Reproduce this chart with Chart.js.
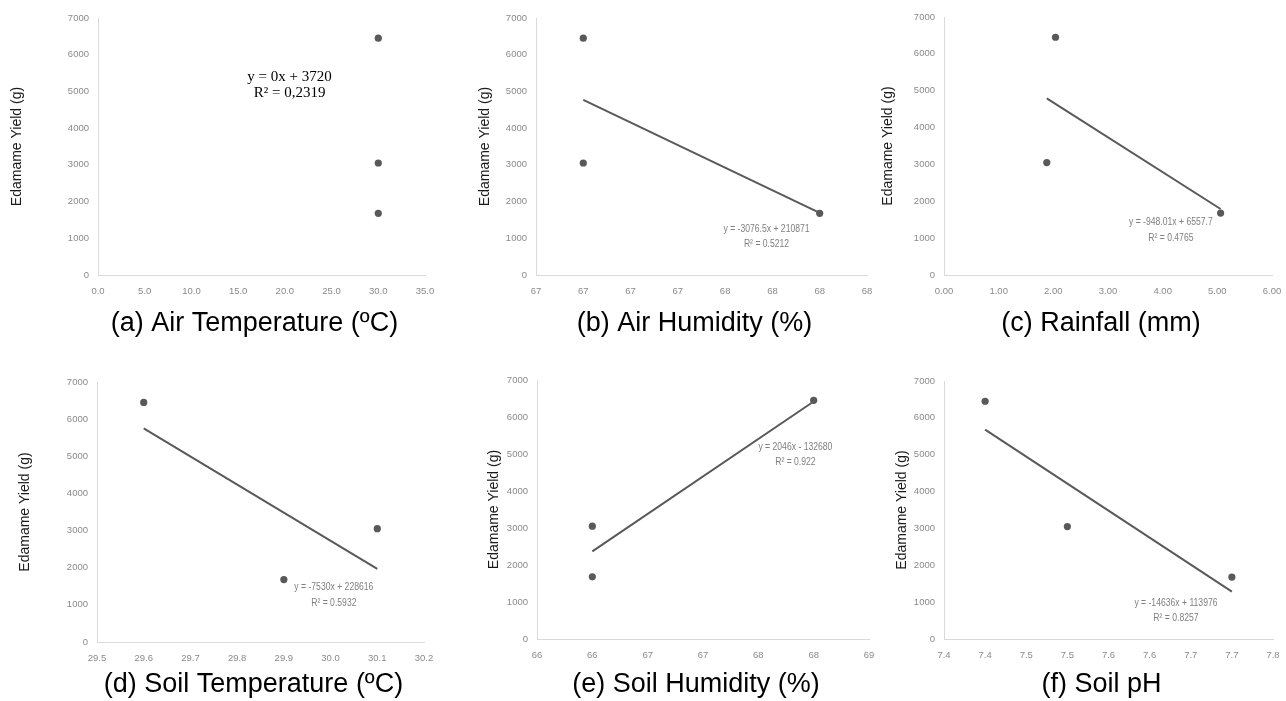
<!DOCTYPE html>
<html lang="en">
<head>
<meta charset="UTF-8">
<title>Edamame yield vs environment</title>
<script src="https://cdn.jsdelivr.net/npm/chart.js@4.4.1/dist/chart.umd.min.js"></script>
<style>
  html, body { margin: 0; padding: 0; background: #fff; overflow: hidden; }
  #page { position: relative; width: 1286px; height: 701px; }
  #page canvas { position: absolute; }
</style>
</head>
<body>
<div id="page">
  <canvas id="chartA"></canvas>
  <canvas id="chartB"></canvas>
  <canvas id="chartC"></canvas>
  <canvas id="chartD"></canvas>
  <canvas id="chartE"></canvas>
  <canvas id="chartF"></canvas>
</div>
<script>
// same three plots in every panel
const yieldG = [6450, 3050, 1680];

const airTemp = [30.0, 30.0, 30.0];
const airHumidity = [67.0, 67.0, 68.0];
const rainfall = [2.04, 1.88, 5.06];
const soilTemp = [29.6, 30.1, 29.9];
const soilHumidity = [68.0, 66.0, 66.0];
const soilPH = [7.4, 7.5, 7.7];

// trend line ends
const trendAirHumX = [67.0, 68.0], trendAirHumY = [4770, 1690];
const trendRainX = [1.88, 5.06], trendRainY = [4790, 1790];
const trendSoilTempX = [29.6, 30.1], trendSoilTempY = [5750, 1970];
const trendSoilHumX = [66.0, 68.0], trendSoilHumY = [2370, 6420];
const trendPHX = [7.4, 7.7], trendPHY = [5680, 1285];

// tick labels as printed
const airTempTicks = ['0.0', '5.0', '10.0', '15.0', '20.0', '25.0', '30.0', '35.0'];
const airHumTicks = ['67', '67', '67', '67', '68', '68', '68', '68'];
const rainTicks = ['0.00', '1.00', '2.00', '3.00', '4.00', '5.00', '6.00'];
const soilTempTicks = ['29.5', '29.6', '29.7', '29.8', '29.9', '30.0', '30.1', '30.2'];
const soilHumTicks = ['66', '66', '67', '67', '68', '68', '69'];
const phTicks = ['7.4', '7.4', '7.5', '7.5', '7.6', '7.6', '7.7', '7.7', '7.8'];
const yieldTicks = ['0', '1000', '2000', '3000', '4000', '5000', '6000', '7000'];

const eqAirTemp = ['y = 0x + 3720', 'R² = 0,2319'];
const eqAirHum = ['y = -3076.5x + 210871', 'R² = 0.5212'];
const eqRain = ['y = -948.01x + 6557.7', 'R² = 0.4765'];
const eqSoilTemp = ['y = -7530x + 228616', 'R² = 0.5932'];
const eqSoilHum = ['y = 2046x - 132680', 'R² = 0.922'];
const eqPH = ['y = -14636x + 113976', 'R² = 0.8257'];

const sans = '"Liberation Sans", Arial, sans-serif';
const smallEq = { fontCss: '10.5px ' + sans, color: '#7f7f7f', gap: 15.6, squeeze: 0.82 };

const panels = [
  { id: 'chartA', box: [0, 0, 450, 340], area: [98, 425, 18, 275], yTitleX: 17, capY: 324,
    caption: '(a) Air Temperature (ºC)', xs: airTemp, min: 0, max: 35, step: 5, labels: airTempTicks,
    eq: eqAirTemp, eqAt: [20.5, 5180], eqStyle: { fontCss: '15px "Liberation Serif", "Times New Roman", serif', color: '#000', gap: 16, squeeze: 1 } },
  { id: 'chartB', box: [430, 0, 450, 340], area: [536, 867, 18, 275], yTitleX: 485, capY: 324,
    caption: '(b) Air Humidity (%)', xs: airHumidity, min: 66.8, max: 68.2, step: 0.2, labels: airHumTicks,
    trendX: trendAirHumX, trendY: trendAirHumY, eq: eqAirHum, eqAt: [67.775, 1050], eqStyle: smallEq },
  { id: 'chartC', box: [860, 0, 426, 340], area: [944, 1272, 17, 275], yTitleX: 888, capY: 324,
    caption: '(c) Rainfall (mm)', xs: rainfall, min: 0, max: 6, step: 1, labels: rainTicks,
    trendX: trendRainX, trendY: trendRainY, eq: eqRain, eqAt: [4.15, 1225], eqStyle: smallEq },
  { id: 'chartD', box: [0, 340, 450, 361], area: [97, 424, 382, 642], yTitleX: 25, capY: 685,
    caption: '(d) Soil Temperature (ºC)', xs: soilTemp, min: 29.5, max: 30.2, step: 0.1, labels: soilTempTicks,
    trendX: trendSoilTempX, trendY: trendSoilTempY, eq: eqSoilTemp, eqAt: [30.007, 1257], eqStyle: smallEq },
  { id: 'chartE', box: [430, 340, 450, 361], area: [537, 869, 380, 639], yTitleX: 494, capY: 685,
    caption: '(e) Soil Humidity (%)', xs: soilHumidity, min: 65.5, max: 68.5, step: 0.5, labels: soilHumTicks,
    trendX: trendSoilHumX, trendY: trendSoilHumY, eq: eqSoilHum, eqAt: [67.835, 4983], eqStyle: smallEq },
  { id: 'chartF', box: [860, 340, 426, 361], area: [944, 1273, 381, 639], yTitleX: 902, capY: 685,
    caption: '(f) Soil pH', xs: soilPH, min: 7.35, max: 7.75, step: 0.05, labels: phTicks,
    trendX: trendPHX, trendY: trendPHY, eq: eqPH, eqAt: [7.632, 767], eqStyle: smallEq }
];

// writes the trend equation at a spot given in data units
const equationLabel = {
  id: 'equationLabel',
  afterDatasetsDraw(chart, args, opts) {
    if (!opts.lines) return;
    const { ctx, scales: { x, y } } = chart;
    const px = x.getPixelForValue(opts.at[0]);
    const py = y.getPixelForValue(opts.at[1]);
    ctx.save();
    ctx.translate(px, py);
    ctx.scale(opts.squeeze, 1);   // the source used a condensed face
    ctx.font = opts.fontCss;
    ctx.fillStyle = opts.color;
    ctx.textAlign = 'center';
    ctx.textBaseline = 'middle';
    const n = opts.lines.length;
    opts.lines.forEach((t, i) => ctx.fillText(t, 0, (i - (n - 1) / 2) * opts.gap));
    ctx.restore();
  }
};

// big panel caption under the x axis, sits a little left of the plot centre
const panelCaption = {
  id: 'panelCaption',
  afterDraw(chart, args, opts) {
    if (!opts.text) return;
    const { ctx, chartArea } = chart;
    ctx.save();
    ctx.font = opts.fontCss;
    ctx.fillStyle = '#000';
    ctx.textAlign = 'center';
    ctx.textBaseline = 'middle';
    ctx.fillText(opts.text, (chartArea.left + chartArea.right) / 2 - 7, opts.y);
    ctx.restore();
  }
};

const tickFont = { family: sans, size: 9.5 };
const tickGrey = '#8a8a8a';
const axisGrey = '#d9d9d9';

function build(p) {
  const [bx, by, bw, bh] = p.box;
  const [L, R, T, B] = p.area;
  const cv = document.getElementById(p.id);
  cv.width = bw; cv.height = bh;
  cv.style.left = bx + 'px'; cv.style.top = by + 'px';
  cv.style.width = bw + 'px'; cv.style.height = bh + 'px';

  const datasets = [];
  if (p.trendX) {
    datasets.push({
      data: p.trendX.map((v, i) => ({ x: v, y: p.trendY[i] })),
      showLine: true, pointRadius: 0, borderColor: '#595959', borderWidth: 2, fill: false
    });
  }
  datasets.push({
    data: p.xs.map((v, i) => ({ x: v, y: yieldG[i] })),
    pointRadius: 3.6, pointBackgroundColor: '#595959', pointBorderWidth: 0, backgroundColor: '#595959'
  });

  new Chart(cv, {
    type: 'scatter',
    data: { datasets },
    options: {
      responsive: false,
      animation: false,
      events: [],
      layout: { padding: { left: 0, top: T - by, right: bx + bw - R, bottom: 0 } },
      plugins: {
        legend: { display: false },
        tooltip: { enabled: false },
        equationLabel: { lines: p.eq, at: p.eqAt, fontCss: p.eqStyle.fontCss, color: p.eqStyle.color,
                         gap: p.eqStyle.gap, squeeze: p.eqStyle.squeeze },
        panelCaption: { text: p.caption, y: p.capY - by, fontCss: '27px ' + sans }
      },
      scales: {
        x: {
          type: 'linear', position: 'bottom',
          min: p.min, max: p.max,
          grid: { display: false, drawTicks: false },
          border: { display: true, color: axisGrey, width: 1 },
          ticks: { stepSize: p.step, autoSkip: false, maxRotation: 0, padding: 11, color: tickGrey, font: tickFont,
                   callback: (v, i) => p.labels[i] },
          afterFit(s) { s.height = by + bh - B; s.paddingLeft = 0; s.paddingRight = 0; }
        },
        y: {
          min: 0, max: 7000,
          grid: { display: false, drawTicks: false },
          border: { display: true, color: axisGrey, width: 1 },
          ticks: { stepSize: 1000, padding: 9, color: tickGrey, font: tickFont,
                   callback: (v, i) => yieldTicks[i] },
          title: { display: true, text: 'Edamame Yield (g)', color: '#1a1a1a',
                   font: { family: sans, size: 14 },
                   padding: { top: p.yTitleX - bx - 8.4, bottom: 0 } },
          afterFit(s) { s.width = L - bx; s.paddingTop = 0; s.paddingBottom = 0; }
        }
      }
    },
    plugins: [equationLabel, panelCaption]
  });
}

panels.forEach(build);
</script>
</body>
</html>
